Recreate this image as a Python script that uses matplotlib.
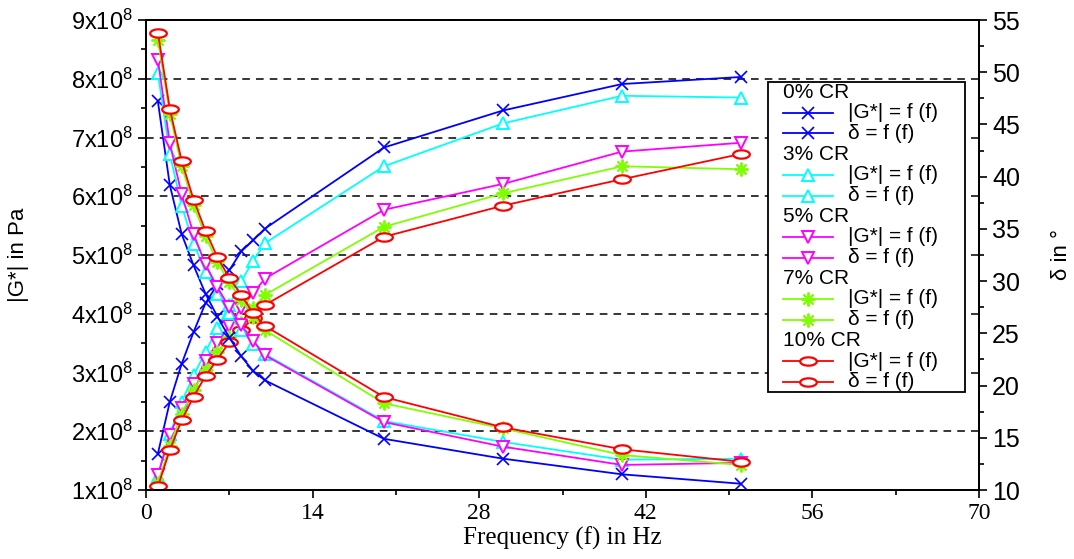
import matplotlib

matplotlib.use("Agg")
import matplotlib.pyplot as plt
import numpy as np
from matplotlib.lines import Line2D
from matplotlib.patches import Rectangle
from matplotlib.path import Path
from matplotlib.ticker import FuncFormatter, MultipleLocator

plt.rcParams["font.family"] = ["Liberation Sans", "DejaVu Sans"]
plt.rcParams["mathtext.fontset"] = "custom"
plt.rcParams["mathtext.rm"] = "Liberation Sans"
plt.rcParams["mathtext.it"] = "Liberation Sans:italic"

# frequency in Hz
freq = [1, 2, 3, 4, 5, 6, 7, 8, 9, 10, 20, 30, 40, 50]
groups = ["0% CR", "3% CR", "5% CR", "7% CR", "10% CR"]

# |G*| in units of 1e8 Pa
g_0 = [1.62, 2.50, 3.15, 3.69, 4.18, 4.50, 4.74, 5.06, 5.25, 5.45, 6.83, 7.46, 7.91, 8.03]
g_3 = [1.23, 1.95, 2.50, 2.95, 3.35, 3.75, 4.15, 4.55, 4.90, 5.20, 6.51, 7.24, 7.71, 7.68]
g_5 = [1.26, 1.94, 2.40, 2.80, 3.20, 3.50, 3.80, 4.10, 4.35, 4.60, 5.77, 6.21, 6.76, 6.91]
g_7 = [1.12, 1.75, 2.30, 2.70, 3.05, 3.35, 3.60, 3.85, 4.10, 4.32, 5.48, 6.05, 6.51, 6.46]
g_10 = [1.06, 1.68, 2.19, 2.59, 2.94, 3.22, 3.52, 3.72, 3.93, 4.15, 5.31, 5.84, 6.29, 6.72]

# phase angle delta in degrees
d_0 = [47.2, 39.2, 34.5, 31.5, 28.8, 26.6, 24.6, 22.8, 21.4, 20.5, 14.9, 13.0, 11.5, 10.6]
d_3 = [49.9, 42.2, 37.2, 33.6, 30.9, 28.8, 26.9, 25.3, 24.0, 23.0, 16.6, 14.6, 12.9, 13.0]
d_5 = [51.2, 43.2, 38.3, 34.5, 31.6, 29.4, 27.5, 25.8, 24.3, 22.9, 16.5, 14.15, 12.4, 12.6]
d_7 = [53.1, 46.0, 41.0, 37.3, 34.3, 31.8, 29.9, 28.2, 26.6, 25.3, 18.3, 15.9, 13.35, 12.4]
d_10 = [53.8, 46.5, 41.5, 37.8, 34.8, 32.3, 30.3, 28.7, 26.9, 25.7, 18.9, 16.0, 13.9, 12.7]

g_all = [g_0, g_3, g_5, g_7, g_10]
d_all = [d_0, d_3, d_5, d_7, d_10]

t = np.linspace(0, 2 * np.pi, 41)
ellipse = Path(np.column_stack([np.cos(t), 0.5 * np.sin(t)]), closed=True)

styles = [
    dict(color="#0000FF", marker="x", ms=8, mew=1.2, mfc="#0000FF"),
    dict(color="#00FFFF", marker="^", ms=8, mew=1.4, mfc="white"),
    dict(color="#FF00FF", marker="v", ms=8, mew=1.4, mfc="white"),
    dict(color="#80FF00", marker=(8, 2, 0), ms=10, mew=1.4, mfc="#80FF00"),
    dict(color="#FF0000", marker=ellipse, ms=12, mew=1.6, mfc="white"),
]

fig = plt.figure(figsize=(10.74, 5.59), dpi=100)
fig.subplots_adjust(left=146 / 1074, right=979 / 1074, bottom=1 - 490 / 559, top=1 - 20 / 559)
ax = fig.add_subplot(111)
ax2 = ax.twinx()

for g, d, st in zip(g_all, d_all, styles):
    ax.plot(freq, np.array(g) * 1e8, lw=1.3, **st)
    ax2.plot(freq, d, lw=1.3, **st)

ax.set_xlim(0, 70)
ax.set_ylim(1e8, 9e8)
ax2.set_ylim(10, 55)
ax.xaxis.set_major_locator(MultipleLocator(14))
ax.xaxis.set_minor_locator(MultipleLocator(7))
ax.yaxis.set_major_locator(MultipleLocator(1e8))
ax.yaxis.set_minor_locator(MultipleLocator(0.5e8))
ax.yaxis.set_major_formatter(FuncFormatter(lambda v, p: f"{v / 1e8:.0f}x10$^{{8}}$"))
ax2.yaxis.set_major_locator(MultipleLocator(5))
ax2.yaxis.set_minor_locator(MultipleLocator(2.5))

ax.yaxis.grid(True, linestyle=(0, (5, 4)), color="black", lw=1.1)

for a in (ax, ax2):
    a.tick_params(which="major", direction="out", length=6, width=1.2, labelsize=17)
    a.tick_params(which="minor", direction="out", length=3.5, width=1.2)
    for s in a.spines.values():
        s.set_linewidth(1.3)
ax2.tick_params(axis="y", labelsize=18)
ax.tick_params(axis="x", labelfontfamily="Liberation Serif", labelsize=17)

ax.set_ylabel("|G*| in Pa", fontsize=16)
ax.yaxis.set_label_coords(-0.14, 0.5)
ax2.set_ylabel("δ in °", fontsize=16)
ax2.yaxis.set_label_coords(1.086, 0.5)
ax.set_xlabel("Frequency (f) in Hz", fontsize=18, family="Liberation Serif")
ax.xaxis.set_label_coords(0.5, -0.078)


# legend drawn in pixel positions of the figure
def fx(px):
    return px / 1074


def fy(py):
    return 1 - py / 559


fig.add_artist(Rectangle((fx(768), fy(392)), fx(965) - fx(768), fy(82) - fy(392),
                         transform=fig.transFigure, facecolor="white",
                         edgecolor="black", lw=1.3, zorder=5))
row = 0
for name, st in zip(groups, styles):
    y = 92 + row * 20.7
    fig.text(fx(783), fy(y), name, va="center", ha="left", fontsize=15, zorder=6)
    row += 1
    for lab in ["|G*| = f (f)", "δ = f (f)"]:
        y = 92 + row * 20.7
        fig.add_artist(Line2D([fx(783), fx(833)], [fy(y), fy(y)], transform=fig.transFigure,
                              color=st["color"], lw=1.3, zorder=6))
        fig.add_artist(Line2D([fx(808)], [fy(y)], transform=fig.transFigure,
                              linestyle="none", zorder=7, **st))
        fig.text(fx(848), fy(y), lab, va="center", ha="left", fontsize=15, zorder=6)
        row += 1

fig.savefig("out.png", dpi=100)
